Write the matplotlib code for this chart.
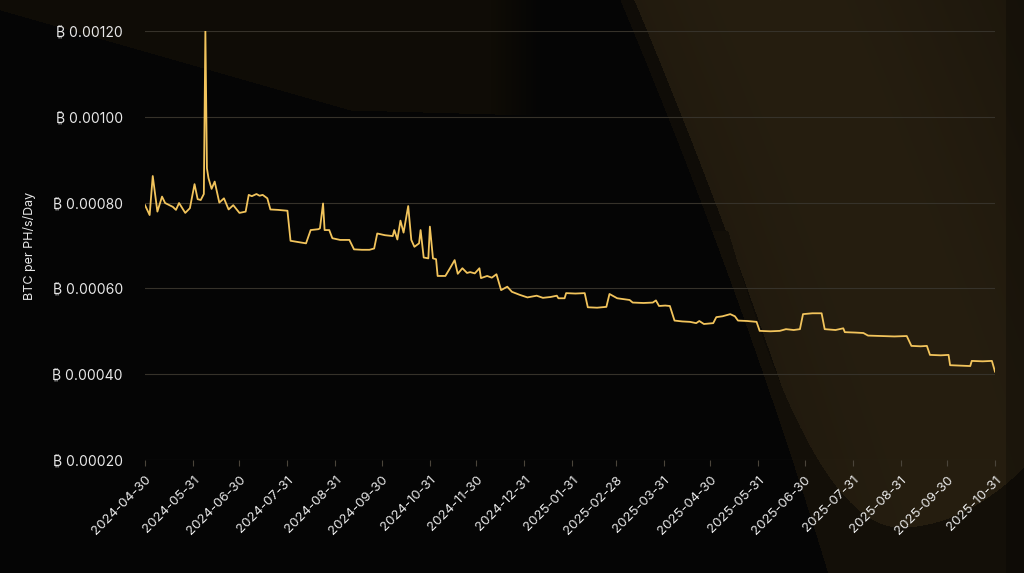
import numpy as np
import pandas as pd
import matplotlib
matplotlib.use("Agg")
import matplotlib.pyplot as plt

# data to plot, days counted from start_date
start_date = "2024-04-30"
day_offsets = [0, 3, 5, 8, 11, 13, 18, 20, 22, 26, 29, 32, 34, 36, 38, 39, 40,
               41, 43, 45, 48, 51, 54, 57, 61, 65, 67, 69, 72, 74, 76, 79, 81,
               86, 92, 94, 99, 104, 107, 112, 113, 115, 116, 119, 121, 126, 132,
               135, 140, 145, 148, 150, 155, 160, 161, 163, 165, 167, 170, 172,
               174, 177, 178, 180, 183, 184, 186, 188, 189, 194, 197, 200, 202,
               205, 208, 210, 213, 216, 217, 221, 224, 227, 230, 234, 237, 242,
               247, 253, 257, 262, 266, 267, 271, 272, 278, 284, 286, 292, 298,
               300, 305, 309, 313, 315, 322, 328, 330, 332, 336, 339, 342, 347,
               352, 356, 358, 361, 367, 369, 373, 378, 381, 383, 389, 395, 397,
               404, 410, 414, 419, 423, 425, 431, 437, 439, 446, 451, 452, 459,
               464, 467, 475, 484, 492, 495, 501, 505, 507, 514, 519, 520, 526,
               533, 534, 541, 547, 549]
btc_per_ph_day = [0.000794, 0.000771, 0.000862, 0.000779, 0.000814, 0.000799,
                  0.000790, 0.000783, 0.000799, 0.000776, 0.000787, 0.000843,
                  0.000808, 0.000806, 0.000820, 0.001200, 0.000880, 0.000857,
                  0.000832, 0.000849, 0.000800, 0.000810, 0.000784, 0.000794,
                  0.000776, 0.000779, 0.000818, 0.000815, 0.000820, 0.000816,
                  0.000818, 0.000810, 0.000784, 0.000783, 0.000781, 0.000711,
                  0.000708, 0.000705, 0.000736, 0.000738, 0.000740, 0.000798,
                  0.000736, 0.000736, 0.000717, 0.000713, 0.000713, 0.000691,
                  0.000690, 0.000690, 0.000693, 0.000728, 0.000724, 0.000722,
                  0.000736, 0.000714, 0.000758, 0.000730, 0.000792, 0.000713,
                  0.000697, 0.000705, 0.000736, 0.000672, 0.000670, 0.000744,
                  0.000670, 0.000668, 0.000629, 0.000629, 0.000647, 0.000666,
                  0.000634, 0.000647, 0.000636, 0.000638, 0.000635, 0.000647,
                  0.000624, 0.000629, 0.000625, 0.000633, 0.000596, 0.000604,
                  0.000592, 0.000585, 0.000579, 0.000583, 0.000578, 0.000580,
                  0.000583, 0.000577, 0.000577, 0.000589, 0.000588, 0.000589,
                  0.000556, 0.000555, 0.000557, 0.000587, 0.000577, 0.000575,
                  0.000573, 0.000567, 0.000566, 0.000567, 0.000572, 0.000559,
                  0.000560, 0.000559, 0.000525, 0.000523, 0.000522, 0.000519,
                  0.000524, 0.000517, 0.000519, 0.000533, 0.000535, 0.000540,
                  0.000535, 0.000525, 0.000524, 0.000522, 0.000501, 0.000500,
                  0.000501, 0.000505, 0.000503, 0.000505, 0.000540, 0.000542,
                  0.000542, 0.000505, 0.000503, 0.000507, 0.000498, 0.000497,
                  0.000496, 0.000490, 0.000489, 0.000488, 0.000489, 0.000466,
                  0.000465, 0.000466, 0.000445, 0.000444, 0.000445, 0.000421,
                  0.000420, 0.000419, 0.000431, 0.000430, 0.000431, 0.000406]
tick_dates = ["2024-04-30", "2024-05-31", "2024-06-30", "2024-07-31", "2024-08-31",
              "2024-09-30", "2024-10-31", "2024-11-30", "2024-12-31", "2025-01-31",
              "2025-02-28", "2025-03-31", "2025-04-30", "2025-05-31", "2025-06-30",
              "2025-07-31", "2025-08-31", "2025-09-30", "2025-10-31"]
y_ticks = [0.0002, 0.0004, 0.0006, 0.0008, 0.0010, 0.0012]

dates = pd.Timestamp(start_date) + pd.to_timedelta(day_offsets, unit="D")
ticks = pd.to_datetime(tick_dates)

plt.rcParams['font.family'] = ['Inter', 'Noto Sans', 'DejaVu Sans']

W, H = 1024, 573
fig = plt.figure(figsize=(W / 100, H / 100), dpi=100)
fig.patch.set_facecolor('black')

# decorative background (dark with brown swooshes)
yy, xx = np.mgrid[0:H, 0:W].astype(float)
img = np.zeros((H, W, 3))
img[:] = np.array([5, 5, 5]) / 255.0
# top-left faint band
top_curve = 10 + 100 * np.clip(xx / 350.0, 0, 1) + 5 * np.clip((xx - 350) / 180.0, 0, 1)
band = (yy < top_curve) & (xx < 540)
fade = np.clip((540 - xx) / 50.0, 0, 1)
img[band] = (img[band] * (1 - fade[band, None])
             + fade[band, None] * np.array([15, 12, 6]) / 255.0)
# right wedge
edge = 620 + 0.42 * yy - 0.0001 * yy ** 2
wedge = xx > edge
glow = np.exp(-((xx - (edge + 160)) / 240.0) ** 2)
wedge_col = (np.array([24, 19, 10])[None, None, :]
             + glow[:, :, None] * np.array([14, 11, 6])[None, None, :]) / 255.0
img[wedge] = wedge_col[wedge]
rim = wedge & (xx < edge + 14)
img[rim] = np.array([15, 12, 7]) / 255.0
# bowl-shaped curve: darker strip to its left and below it
k = np.where(xx < 900, 0.01, 0.0039)
bowl = 527 - k * (xx - 900) ** 2
low = wedge & (yy > bowl) & (yy > 230)
img[low] = np.array([19, 15, 8]) / 255.0
right_edge = xx > 1005
img[right_edge] = img[right_edge] * 0.75
bg = fig.add_axes([0, 0, 1, 1], zorder=0)
bg.imshow(img, aspect='auto', interpolation='bilinear')
bg.axis('off')

ax = fig.add_axes([145 / W, (H - 460) / H, 850 / W, 429 / H], zorder=1)
ax.patch.set_alpha(0)
ax.plot(dates, btc_per_ph_day, color='#f2c45c', linewidth=1.3)

ax.set_ylim(0.0002, 0.0012)
ax.set_xlim(pd.Timestamp(start_date), ticks[-1])
ax.set_yticks(y_ticks)
ax.set_yticklabels(['\u20bf {:.5f}'.format(v) for v in y_ticks])
ax.set_xticks(ticks)
ax.set_xticklabels(tick_dates, rotation=45, ha='right', rotation_mode='anchor')
ax.grid(axis='y', color='#36322a', linewidth=0.8)
for s in ax.spines.values():
    s.set_visible(False)
ax.tick_params(axis='y', length=0, pad=16, labelcolor='#e8e8e8', labelsize=10)
ax.tick_params(axis='x', length=4, color='#4a443a', pad=6, labelcolor='#e8e8e8',
               labelsize=9.5)
ax.set_ylabel('BTC per PH/s/Day', color='#e8e8e8', fontsize=9, labelpad=12)

fig.savefig('out.png', dpi=100, facecolor=fig.get_facecolor())
